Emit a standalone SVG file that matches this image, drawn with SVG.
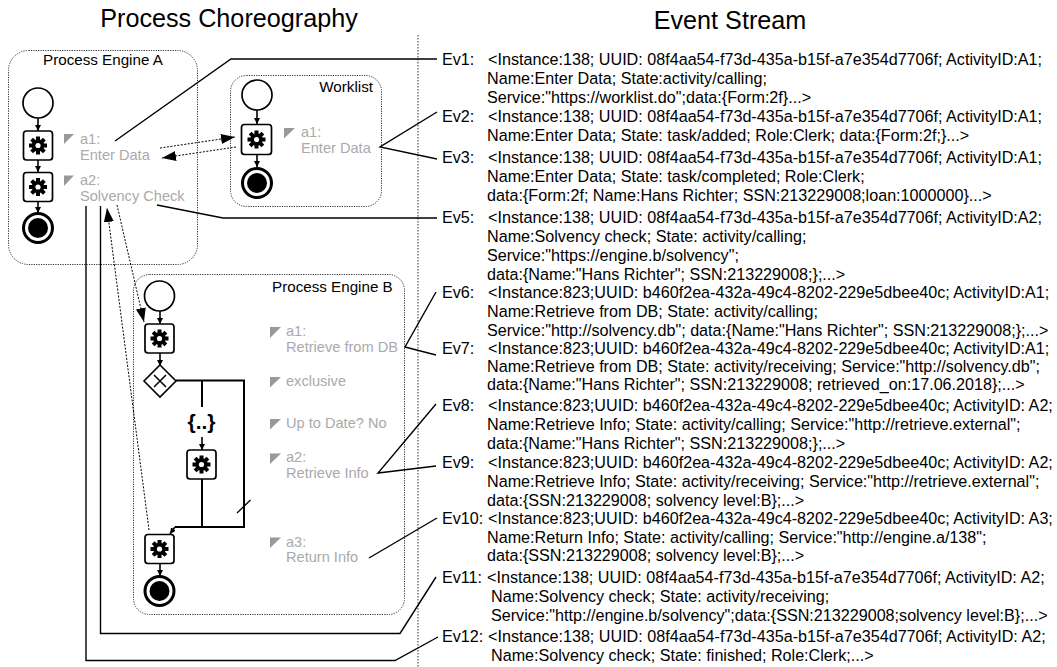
<svg xmlns="http://www.w3.org/2000/svg" width="1057" height="667" viewBox="0 0 1057 667">
<style>
text{font-family:"Liberation Sans",Arial,sans-serif;fill:#000}
.title{font-size:25.200px;text-anchor:middle}
.ev{font-size:16.150px}
.pool{font-size:15.200px}
.lab{font-size:14.600px;fill:#aaa}
.box{fill:none;stroke:#333;stroke-width:1;stroke-dasharray:1.2 1.2}
.tri{fill:#999}
.ev-line{fill:none;stroke:#000;stroke-width:1.4}
.dot{fill:none;stroke:#000;stroke-width:1;stroke-dasharray:2 1.5}
.flow{fill:none;stroke:#000;stroke-width:1.6}
.thick{fill:none;stroke:#000;stroke-width:2}
.start{fill:#fff;stroke:#000;stroke-width:1.7}
.end{fill:#fff;stroke:#000;stroke-width:3}
.task{fill:#fff;stroke:#000;stroke-width:1.7}
</style>
<defs>
<marker id="big" markerUnits="userSpaceOnUse" markerWidth="14" markerHeight="10" refX="14" refY="5" orient="auto"><path d="M0 0L14 5L0 10Z" fill="#000"/></marker>
<marker id="small" markerUnits="userSpaceOnUse" markerWidth="6" markerHeight="6" refX="6" refY="3" orient="auto"><path d="M0 0L6 3L0 6Z" fill="#000"/></marker>
<g id="gear">
<circle r="6.2" fill="#000"/>
<g fill="#000"><rect x="-2" y="-9" width="4" height="18"/><rect x="-2" y="-9" width="4" height="18" transform="rotate(45)"/><rect x="-2" y="-9" width="4" height="18" transform="rotate(90)"/><rect x="-2" y="-9" width="4" height="18" transform="rotate(135)"/></g>
<circle r="2.6" fill="#fff"/>
</g>
</defs>
<text class="title" x="229" y="27">Process Choreography</text>
<text class="title" x="730" y="29">Event Stream</text>
<path d="M418 35V667" fill="none" stroke="#333" stroke-width="1" stroke-dasharray="1.5 1.5"/>

<g id="engine-a">
<rect class="box" x="8.500" y="50.500" width="189" height="214" rx="20"/>
<text class="pool" x="43" y="65">Process Engine A</text>
<path class="flow" d="M38 118V131" marker-end="url(#small)"/>
<path class="flow" d="M38 160V172" marker-end="url(#small)"/>
<path class="flow" d="M38 201V213" marker-end="url(#small)"/>
<circle class="start" cx="38" cy="103" r="15"/>
<rect class="task" x="23.500" y="131" width="29" height="29" rx="3"/><use href="#gear" x="38" y="145.500"/>
<rect class="task" x="23.500" y="172.500" width="29" height="29" rx="3"/><use href="#gear" x="38" y="187"/>
<circle class="end" cx="38" cy="228" r="14.500"/><circle cx="38" cy="228" r="10"/>
<path class="tri" d="M64 134H74L64 144Z"/><text class="lab" x="80" y="144">a1:</text><text class="lab" x="80" y="160">Enter Data</text>
<path class="tri" d="M64 175.500H74L64 186Z"/><text class="lab" x="80" y="185">a2:</text><text class="lab" x="80" y="201">Solvency Check</text>
</g>

<g id="worklist">
<rect class="box" x="230.500" y="75.500" width="151" height="131" rx="16"/>
<text class="pool" x="373" y="92" text-anchor="end">Worklist</text>
<path class="flow" d="M257 110V124" marker-end="url(#small)"/>
<path class="flow" d="M257 154V167" marker-end="url(#small)"/>
<circle class="start" cx="257" cy="95" r="15"/>
<rect class="task" x="241.500" y="124.500" width="30" height="30" rx="3"/><use href="#gear" x="256.500" y="139.500"/>
<circle class="end" cx="257" cy="183" r="14.500"/><circle cx="257" cy="183" r="10"/>
<path class="tri" d="M284 128H295L284 138.500Z"/><text class="lab" x="301" y="137">a1:</text><text class="lab" x="301" y="153">Enter Data</text>
</g>

<g id="engine-b">
<rect class="box" x="133.500" y="274.500" width="271" height="340" rx="16"/>
<text class="pool" x="272" y="292">Process Engine B</text>
<path class="flow" d="M160 311V324" marker-end="url(#small)"/>
<path class="flow" d="M160 353V366" marker-end="url(#small)"/>
<path class="thick" d="M176 380.500H244V527H175"/>
<path class="thick" d="M202 381V407"/>
<path class="flow" d="M202 437V450" marker-end="url(#small)"/>
<path class="thick" d="M202 479V527"/>
<path class="flow" d="M175 527L170 534" marker-end="url(#small)"/>
<path class="flow" d="M160 564V576" marker-end="url(#small)"/>
<path d="M237 513L250.500 500" fill="none" stroke="#000" stroke-width="1.3"/>
<circle class="start" cx="159.500" cy="296" r="15"/>
<rect class="task" x="145" y="324" width="29" height="29" rx="3"/><use href="#gear" x="159.500" y="338.500"/>
<path d="M160 365L176 381L160 397L144 381Z" fill="#fff" stroke="#000" stroke-width="1.6"/>
<path d="M154 375L166 387M166 375L154 387" stroke="#000" stroke-width="1.5"/>
<text x="201.500" y="429" font-size="21" font-weight="bold" text-anchor="middle">{..}</text>
<rect class="task" x="187" y="450" width="29" height="29" rx="3"/><use href="#gear" x="201.500" y="464.500"/>
<rect class="task" x="145" y="534.500" width="29" height="29" rx="3"/><use href="#gear" x="159.500" y="549"/>
<circle class="end" cx="159.500" cy="591" r="14.500"/><circle cx="159.500" cy="591" r="10"/>
<path class="tri" d="M270 327H281L270 338Z"/><text class="lab" x="286" y="336">a1:</text><text class="lab" x="286" y="352">Retrieve from DB</text>
<path class="tri" d="M270 377H281L270 387.500Z"/><text class="lab" x="286" y="386">exclusive</text>
<path class="tri" d="M270 419H281L270 429.500Z"/><text class="lab" x="286" y="428">Up to Date? No</text>
<path class="tri" d="M270 453.500H281L270 464Z"/><text class="lab" x="286" y="462">a2:</text><text class="lab" x="286" y="478">Retrieve Info</text>
<path class="tri" d="M270 537.500H281L270 548Z"/><text class="lab" x="286" y="547">a3:</text><text class="lab" x="286" y="562">Return Info</text>
</g>

<g id="connectors">
<path class="ev-line" d="M115 141L231 59H437"/>
<path class="ev-line" d="M437 112L380 147L437 159"/>
<path class="ev-line" d="M157 205L223 218H437"/>
<path class="ev-line" d="M436 292L405 347L436 355"/>
<path class="ev-line" d="M436 404L378 473L436 466"/>
<path class="ev-line" d="M369 558L437 518"/>
<path class="ev-line" d="M100.500 206V633.500H400L436 577"/>
<path class="ev-line" d="M86 206V660.500H395L438 637"/>
<path class="dot" d="M160 148L235 137" marker-end="url(#big)"/>
<path class="dot" d="M236 147L162 158" marker-end="url(#big)"/>
<path class="dot" d="M149 530L107 208" marker-end="url(#big)"/>
<path class="dot" d="M117 205L144 322" marker-end="url(#big)"/>
</g>

<g id="event-stream">
<text class="ev" x="442" y="65">Ev1:</text>
<text class="ev" x="488" y="65">&lt;Instance:138; UUID: 08f4aa54-f73d-435a-b15f-a7e354d7706f; ActivityID:A1;</text>
<text class="ev" x="487" y="84">Name:Enter Data; State:activity/calling;</text>
<text class="ev" x="487" y="103">Service:"https://worklist.do";data:{Form:2f}...&gt;</text>
<text class="ev" x="442" y="122">Ev2:</text>
<text class="ev" x="488" y="122">&lt;Instance:138; UUID: 08f4aa54-f73d-435a-b15f-a7e354d7706f; ActivityID:A1;</text>
<text class="ev" x="487" y="141">Name:Enter Data; State: task/added; Role:Clerk; data:{Form:2f;}...&gt;</text>
<text class="ev" x="442" y="163">Ev3:</text>
<text class="ev" x="488" y="163">&lt;Instance:138; UUID: 08f4aa54-f73d-435a-b15f-a7e354d7706f; ActivityID:A1;</text>
<text class="ev" x="487" y="182">Name:Enter Data; State: task/completed; Role:Clerk;</text>
<text class="ev" x="487" y="201">data:{Form:2f; Name:Hans Richter; SSN:213229008;loan:1000000}...&gt;</text>
<text class="ev" x="442" y="223">Ev5:</text>
<text class="ev" x="488" y="223">&lt;Instance:138; UUID: 08f4aa54-f73d-435a-b15f-a7e354d7706f; ActivityID:A2;</text>
<text class="ev" x="487" y="242">Name:Solvency check; State: activity/calling;</text>
<text class="ev" x="487" y="261">Service:"https://engine.b/solvency";</text>
<text class="ev" x="487" y="280">data:{Name:"Hans Richter"; SSN:213229008;};...&gt;</text>
<text class="ev" x="442" y="298">Ev6:</text>
<text class="ev" x="488" y="298">&lt;Instance:823;UUID: b460f2ea-432a-49c4-8202-229e5dbee40c; ActivityID:A1;</text>
<text class="ev" x="487" y="317">Name:Retrieve from DB; State: activity/calling;</text>
<text class="ev" x="487" y="336">Service:"http://solvency.db"; data:{Name:"Hans Richter"; SSN:213229008;};...&gt;</text>
<text class="ev" x="442" y="354">Ev7:</text>
<text class="ev" x="488" y="354">&lt;Instance:823;UUID: b460f2ea-432a-49c4-8202-229e5dbee40c; ActivityID:A1;</text>
<text class="ev" x="487" y="372">Name:Retrieve from DB; State: activity/receiving; Service:"http://solvency.db";</text>
<text class="ev" x="487" y="390">data:{Name:"Hans Richter"; SSN:213229008; retrieved_on:17.06.2018};...&gt;</text>
<text class="ev" x="442" y="411">Ev8:</text>
<text class="ev" x="488" y="411">&lt;Instance:823;UUID: b460f2ea-432a-49c4-8202-229e5dbee40c; ActivityID: A2;</text>
<text class="ev" x="487" y="430">Name:Retrieve Info; State: activity/calling; Service:"http://retrieve.external";</text>
<text class="ev" x="487" y="449">data:{Name:"Hans Richter"; SSN:213229008;};...&gt;</text>
<text class="ev" x="442" y="468">Ev9:</text>
<text class="ev" x="488" y="468">&lt;Instance:823;UUID: b460f2ea-432a-49c4-8202-229e5dbee40c; ActivityID: A2;</text>
<text class="ev" x="487" y="487">Name:Retrieve Info; State: activity/receiving; Service:"http://retrieve.external";</text>
<text class="ev" x="487" y="506">data:{SSN:213229008; solvency level:B};...&gt;</text>
<text class="ev" x="442" y="524">Ev10:</text>
<text class="ev" x="488" y="524">&lt;Instance:823;UUID: b460f2ea-432a-49c4-8202-229e5dbee40c; ActivityID: A3;</text>
<text class="ev" x="487" y="543">Name:Return Info; State: activity/calling; Service:"http://engine.a/138";</text>
<text class="ev" x="487" y="561">data:{SSN:213229008; solvency level:B};...&gt;</text>
<text class="ev" x="442" y="583">Ev11:</text>
<text class="ev" x="487" y="583">&lt;Instance:138; UUID: 08f4aa54-f73d-435a-b15f-a7e354d7706f; ActivityID: A2;</text>
<text class="ev" x="491" y="602">Name:Solvency check; State: activity/receiving;</text>
<text class="ev" x="491" y="621">Service:"http://engine.b/solvency";data:{SSN:213229008;solvency level:B};...&gt;</text>
<text class="ev" x="442" y="642">Ev12:</text>
<text class="ev" x="488" y="642">&lt;Instance:138; UUID: 08f4aa54-f73d-435a-b15f-a7e354d7706f; ActivityID: A2;</text>
<text class="ev" x="491" y="661">Name:Solvency check; State: finished; Role:Clerk;...&gt;</text>
</g>
</svg>
